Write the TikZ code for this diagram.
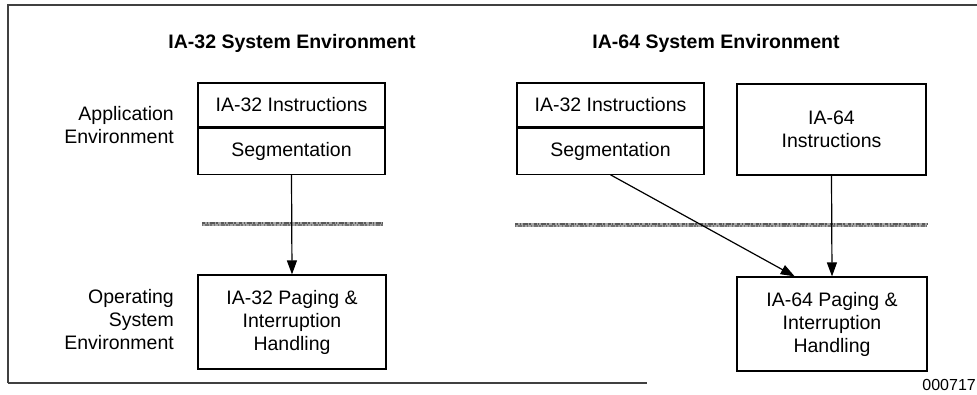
\documentclass[tikz,border=0pt]{standalone}
\usepackage{fontspec}
\setmainfont{Liberation Sans}
\usetikzlibrary{arrows.meta,calc}

\tikzset{
  txt/.style={font=\fontsize{19.5}{23}\selectfont, inner sep=0pt},
  ttl/.style={font=\fontsize{19.5}{23}\selectfont\bfseries, inner sep=0pt},
  side/.style={txt, align=right, anchor=east},
  blk/.style={draw, line width=1.2pt, inner sep=0pt, align=center,
    font=\fontsize{19.5}{23}\selectfont},
  link/.style={line width=1.2pt, -{Triangle[length=14pt,width=10pt]}},
  frameline/.style={line width=1.3pt, black!75},
  barbase/.style={line width=4.5pt, black!35},
  bartexa/.style={line width=2pt, black!65, dash pattern=on 3pt off 1.5pt on 1pt off 2pt on 5pt off 1pt on 2pt off 3pt},
  bartexb/.style={line width=2pt, black!55, dash pattern=on 1pt off 2pt on 4pt off 1pt on 2pt off 1.5pt on 1pt off 3pt},
}

\begin{document}
\begin{tikzpicture}[x=1pt,y=-1pt]
\useasboundingbox (0,0) rectangle (977,394);

% outer frame (open at the right)
\draw[frameline] (8,383) -- (8,5) -- (977,5);
\draw[frameline] (8,383) -- (647,383);

% column titles
\node[ttl] (t32) at (292,43) {IA-32 System Environment};
\node[ttl] (t64) at (716,43) {IA-64 System Environment};

% row labels
\node[side] (appl) at (174,125) {Application\\Environment};
\node[side] (osl) at (174,320) {Operating\\System\\Environment};

% IA-32 system environment
\node[blk, minimum width=187pt, minimum height=44pt] (insA) at (291.5,105) {IA-32 Instructions};
\node[blk, minimum width=187pt, minimum height=46pt, anchor=north] (segA) at (insA.south) {Segmentation};
\node[blk, minimum width=188pt, minimum height=94pt] (pgA) at (292,322) {IA-32 Paging \&\\Interruption\\Handling};

% IA-64 system environment
\node[blk, minimum width=187pt, minimum height=44pt] (insB) at (610.5,105) {IA-32 Instructions};
\node[blk, minimum width=187pt, minimum height=46pt, anchor=north] (segB) at (insB.south) {Segmentation};
\node[blk, minimum width=189pt, minimum height=91pt] (ins64) at (831.5,129.5) {IA-64\\Instructions};
\node[blk, minimum width=190pt, minimum height=94pt] (pgB) at (832,324) {IA-64 Paging \&\\Interruption\\Handling};

% boundary between application and operating system levels (mottled band)
\foreach \xa/\xb/\yy in {202/383/224, 515/927/225} {
  \draw[barbase] (\xa,\yy) -- (\xb,\yy);
  \draw[bartexa] (\xa,\yy-1) -- (\xb,\yy-1);
  \draw[bartexb] (\xa,\yy+1) -- (\xb,\yy+1);
}

% connectors
\coordinate (pgBin) at ($(pgB.north west)!0.305!(pgB.north east)$);
\draw[link] (segA.south) -- (pgA.north);
\draw[link] (segB.south) -- (pgBin);
\draw[link] (ins64.south) -- (pgB.north);

% figure number
\node[anchor=east, inner sep=0pt, font=\fontsize{16}{18}\selectfont] (fig) at (976,385) {000717};
\end{tikzpicture}
\end{document}
